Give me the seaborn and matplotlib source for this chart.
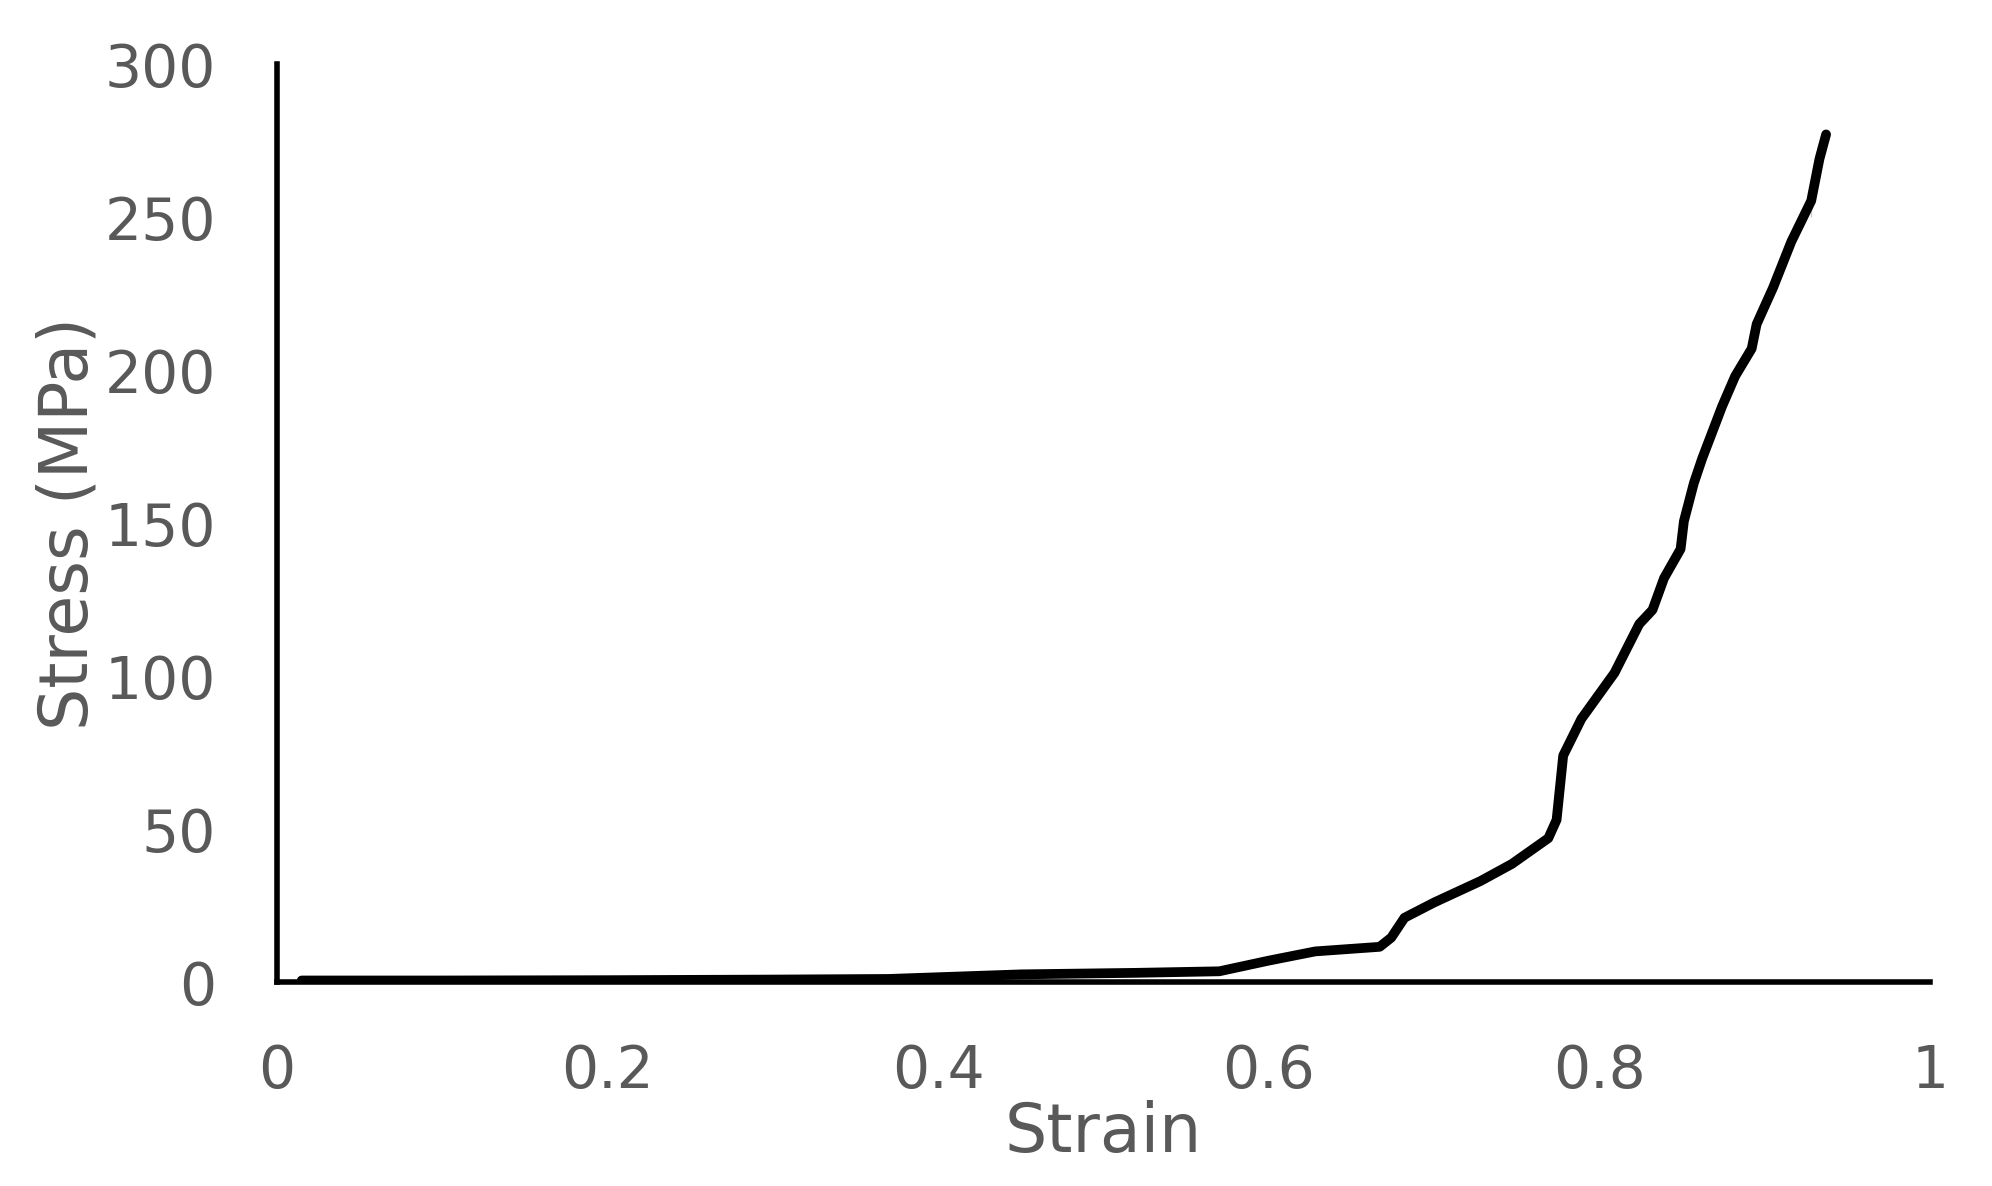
import matplotlib
matplotlib.use('Agg')
import matplotlib.pyplot as plt
import seaborn as sns
import pandas as pd

# stress-strain curve
strain = [0.015, 0.10, 0.20, 0.30, 0.37, 0.45, 0.52, 0.57, 0.60, 0.628, 0.667,
          0.674, 0.682, 0.700, 0.728, 0.747, 0.769, 0.774, 0.778, 0.789, 0.809,
          0.824, 0.832, 0.839, 0.849, 0.851, 0.857, 0.862, 0.874, 0.882, 0.892,
          0.895, 0.905, 0.916, 0.928, 0.928, 0.933, 0.937]
stress = [0.5, 0.5, 0.6, 0.8, 1.0, 2.5, 3.0, 3.5, 7.0, 10.0, 11.5,
          14.5, 21.0, 26.0, 33.0, 38.6, 47.0, 53.0, 74.0, 86.0, 101.0,
          117.0, 121.6, 132.0, 141.5, 150.6, 163.0, 171.0, 188.0, 198.0, 207.0,
          215.0, 227.0, 242.0, 250.0, 260.6, 269.0, 277.0]

x_ticks = [0, 0.2, 0.4, 0.6, 0.8, 1]
x_labels = ['0', '0.2', '0.4', '0.6', '0.8', '1']
y_ticks = [0, 50, 100, 150, 200, 250, 300]

df = pd.DataFrame({'Strain': strain, 'Stress': stress})

sns.set_style('white')
plt.rcParams['font.family'] = ['DejaVu Sans']

fig = plt.figure(figsize=(19.92, 11.86), dpi=100)
ax = fig.add_axes([0.139, 0.172, 0.83, 0.774])

sns.lineplot(data=df, x='Strain', y='Stress', sort=False, color='black',
             linewidth=7, ax=ax)

ax.set_xlim(0, 1)
ax.set_ylim(0, 300)
ax.set_xticks(x_ticks)
ax.set_xticklabels(x_labels)
ax.set_yticks(y_ticks)

grey = '#595959'
ax.tick_params(axis='both', length=0, labelsize=42, labelcolor=grey)
ax.tick_params(axis='x', pad=44)
ax.tick_params(axis='y', pad=44)

ax.set_xlabel('Strain', fontsize=48, color=grey, labelpad=0)
ax.set_ylabel('Stress (MPa)', fontsize=48, color=grey, labelpad=2)

for side in ['top', 'right']:
    ax.spines[side].set_visible(False)
for side in ['left', 'bottom']:
    ax.spines[side].set_color('black')
    ax.spines[side].set_linewidth(4)

fig.savefig('out.png', dpi=100)
